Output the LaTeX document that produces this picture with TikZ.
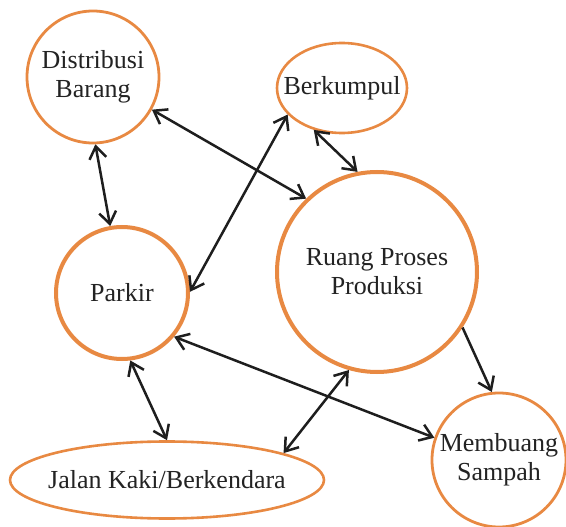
\documentclass[tikz,border=0pt]{standalone}
\usepackage{fontspec}
\setmainfont{Liberation Serif}
\usetikzlibrary{arrows.meta,shapes.geometric}
\definecolor{borange}{RGB}{232,137,66}
\definecolor{ink}{RGB}{30,30,30}
\definecolor{txt}{RGB}{35,35,35}
\tikzset{
  place/.style={circle, draw=borange, line width=2.8pt, inner sep=0pt, fill=white,
     text=txt, align=center, font=\fontsize{26}{29}\selectfont},
  thickplace/.style={place, line width=4pt},
  oval/.style={ellipse, draw=borange, line width=2.6pt, inner sep=0pt, fill=white,
     text=txt, align=center, font=\fontsize{26}{29}\selectfont},
  tip/.tip={Straight Barb[length=12pt,width=17pt]},
  link/.style={draw=ink, line width=2.5pt, tip-tip},
  onelink/.style={draw=ink, line width=2.5pt, -tip}
}
\begin{document}
\begin{tikzpicture}[x=1pt,y=-1pt]
\useasboundingbox (0,0) rectangle (566,527);
\node[place, minimum size=132pt] (dist) at (93,77) {Distribusi\\Barang};
\node[oval, minimum width=130pt, minimum height=90pt] (berk) at (342,88) {\makebox[0pt][c]{Berkumpul}};
\node[thickplace, minimum size=200pt] (ruang) at (377,272) {Ruang Proses\\Produksi};
\node[thickplace, minimum size=132pt] (parkir) at (122,293) {Parkir};
\node[oval, minimum width=314pt, minimum height=77pt] (jalan) at (167,480) {\makebox[0pt][c]{Jalan Kaki/Berkendara}};
\node[place, minimum size=134pt] (memb) at (499,460) {Membuang\\Sampah};

\draw[link] (dist.-88) -- (parkir.100);
\draw[link] (dist.-29) -- (ruang.134.6);
\draw[link] (parkir.1) -- (berk.206);
\draw[link] (berk.-124.6) -- (ruang.101.6);
\draw[onelink] (ruang.-33.5) -- (memb.96);
\draw[link] (parkir.-40.8) -- (memb.161.8);
\draw[link] (parkir.-83) -- (jalan.90);
\draw[link] (ruang.254.6) -- (jalan.13.1);
\end{tikzpicture}
\end{document}
